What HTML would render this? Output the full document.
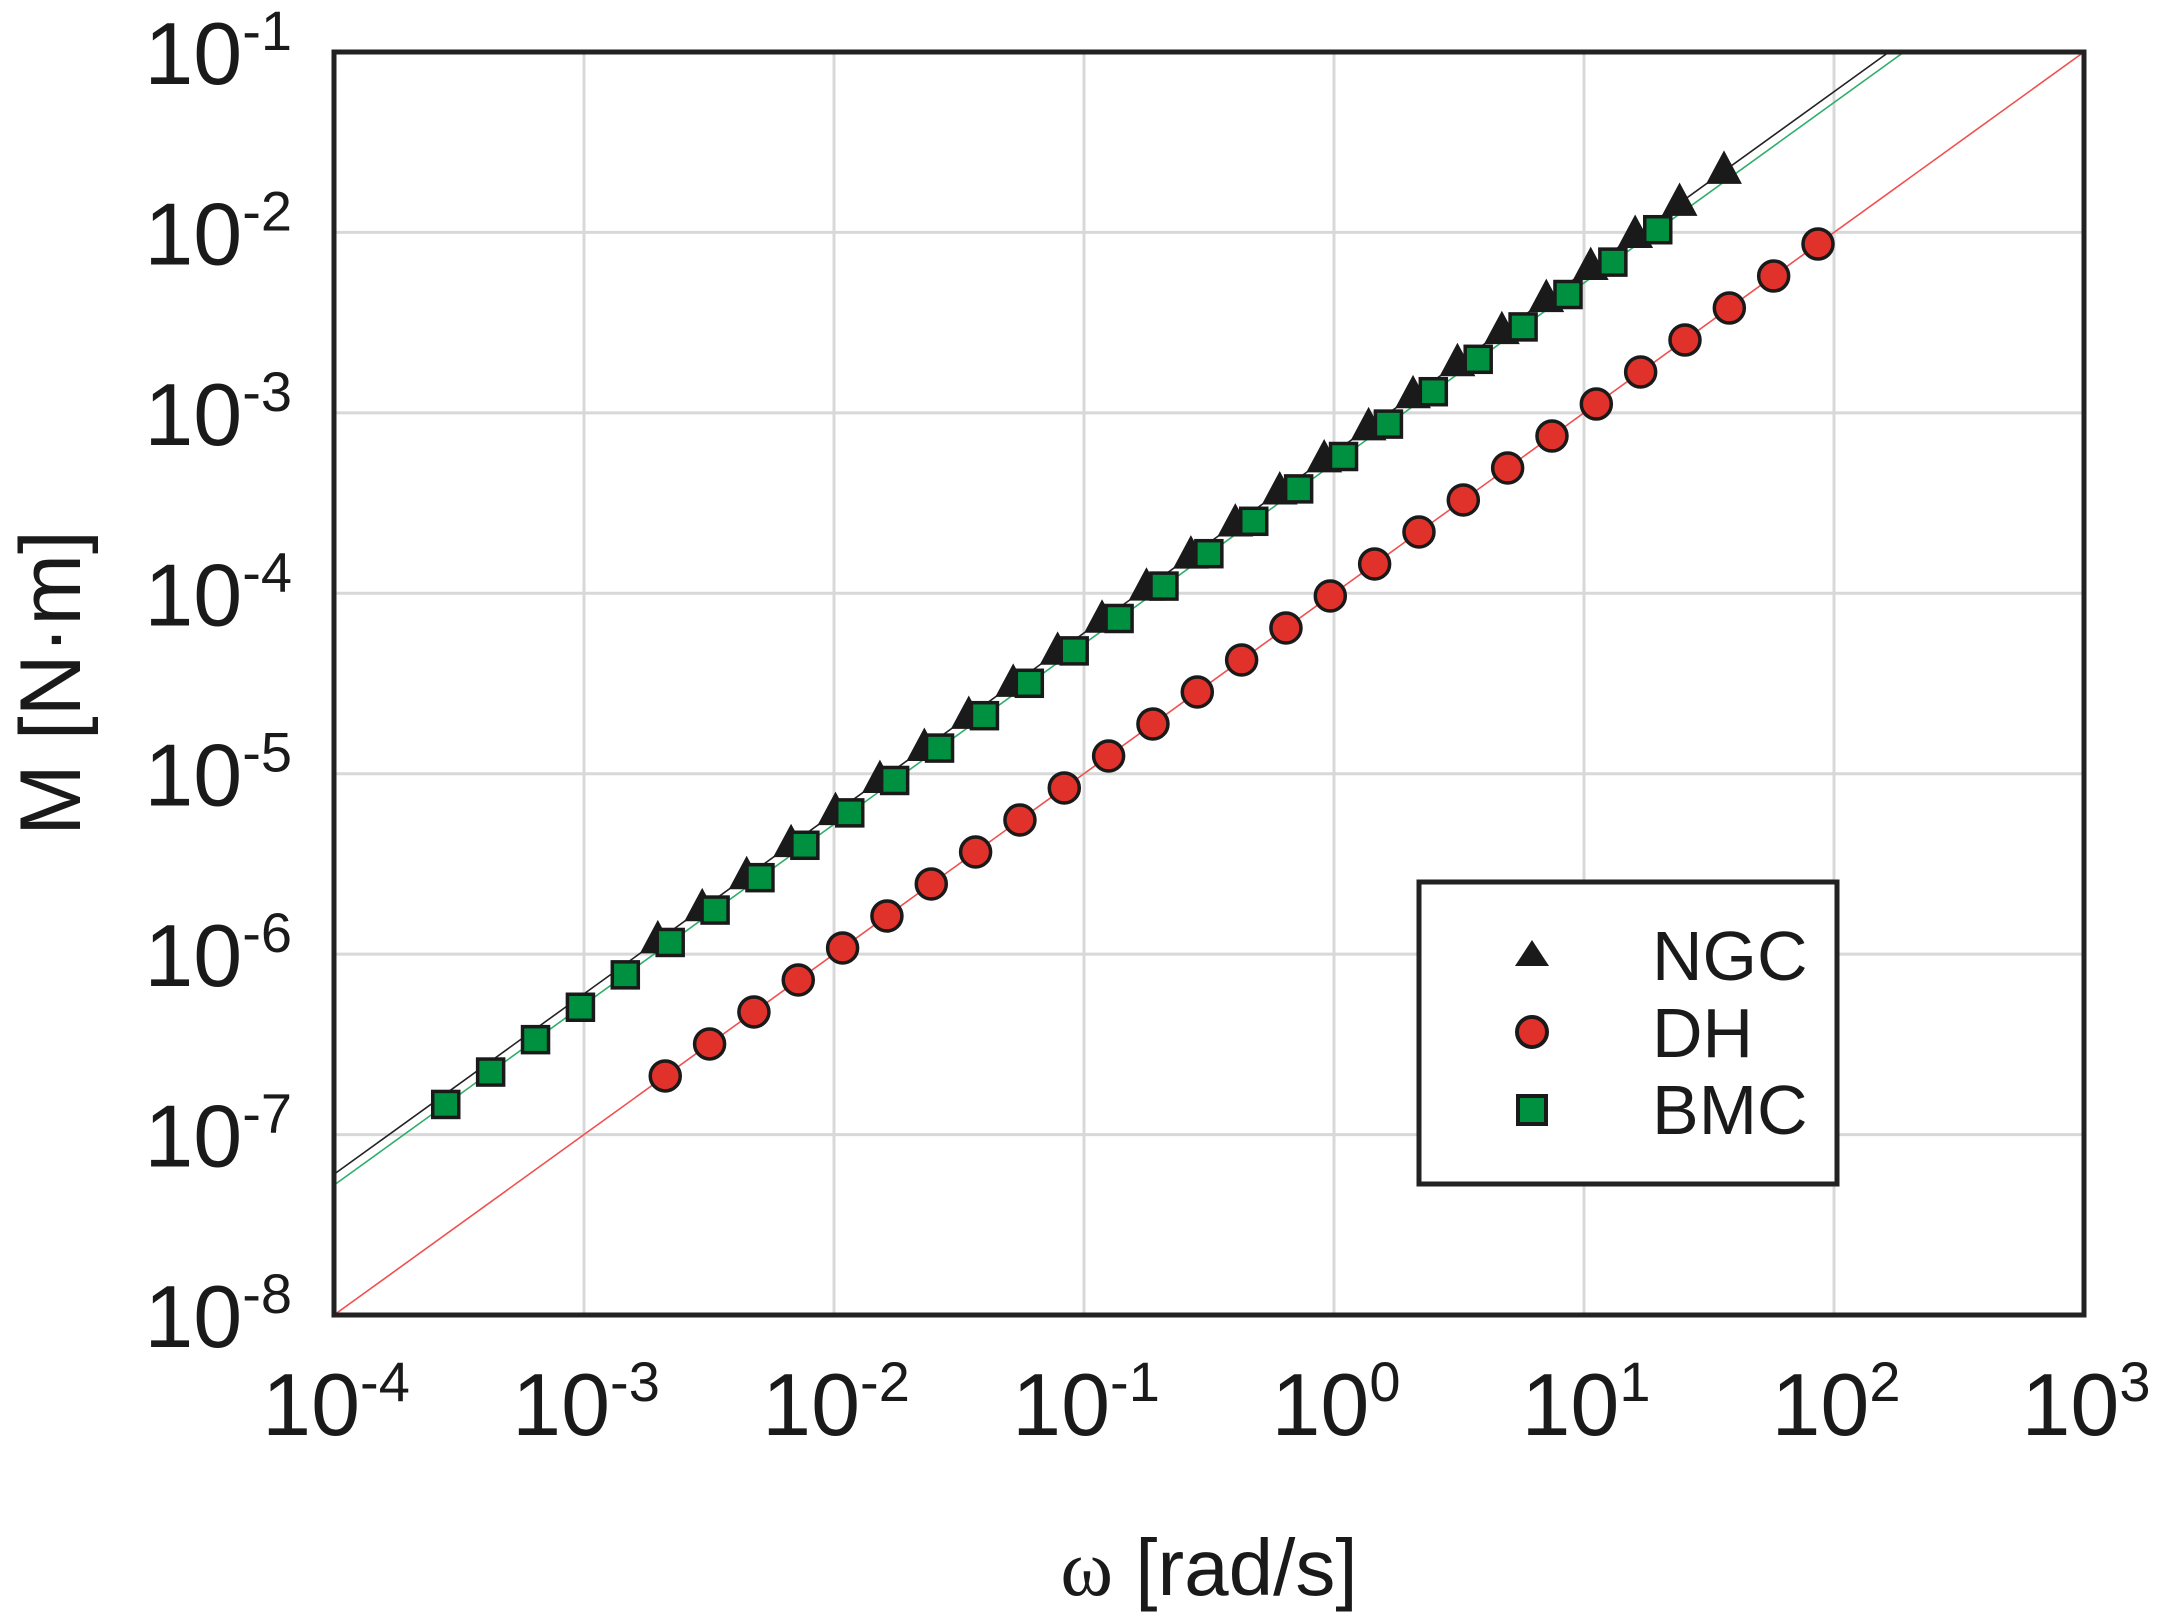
<!DOCTYPE html>
<html><head><meta charset="utf-8"><style>
html,body{margin:0;padding:0;background:#fff;}
svg{display:block;}
text{font-family:"Liberation Sans",Arial,sans-serif;fill:#1a1a1a;}
</style></head><body>
<svg id="s" width="2161" height="1620" viewBox="0 0 2161 1620" xmlns="http://www.w3.org/2000/svg">
<g id="grid" stroke="#d8d8d8" stroke-width="3"></g>
<g id="lines" stroke-width="1.6" fill="none"></g>
<g id="marks" stroke="#1a1a1a" stroke-width="3.5"></g>
<rect x="334" y="52" width="1750" height="1263" fill="none" stroke="#222" stroke-width="5"/>
<g id="labels"></g>
<text x="1209" y="1595" font-size="80" text-anchor="middle"><tspan font-family="Liberation Serif,serif">ω</tspan> [rad/s]</text>
<text transform="translate(80,683) rotate(-90)" font-size="86" text-anchor="middle">M [N·m]</text>
<rect x="1419" y="882" width="418" height="302" fill="#fff" stroke="#222" stroke-width="5"/>
<polygon points="1532,940 1549,966 1515,966" fill="#1a1a1a"/>
<circle cx="1532" cy="1032" r="15" fill="#e0312b" stroke="#1a1a1a" stroke-width="4"/>
<rect x="1518" y="1096" width="28" height="28" fill="#009140" stroke="#1a1a1a" stroke-width="4"/>
<text x="1652" y="980" font-size="70">NGC</text>
<text x="1652" y="1057" font-size="70">DH</text>
<text x="1652" y="1134" font-size="70">BMC</text>
</svg>
<script>
var NS="http://www.w3.org/2000/svg";
function X(l){return 334+(l+4)*250;}
function Y(l){return 52+(-1-l)*180.43;}
function el(p,t,a){var e=document.createElementNS(NS,t);for(var k in a)e.setAttribute(k,a[k]);document.getElementById(p).appendChild(e);return e;}
for(var i=1;i<7;i++){el("grid","line",{x1:X(-4+i),x2:X(-4+i),y1:52,y2:1315});el("grid","line",{x1:334,x2:2084,y1:Y(-8+i),y2:Y(-8+i)});}
function line(off,col){var x0=-4,y0=x0+off;var x1=-1-off;el("lines","line",{x1:X(x0),y1:Y(y0),x2:X(x1),y2:Y(-1),stroke:col});}
line(-3.22,"#222");line(-3.28,"#2fae6a");line(-4,"#f05050");
for(var k=0;k<25;k++){var lx=1.56-0.1777*k;var cx=X(lx),cy=Y(lx-3.22);
el("marks","polygon",{points:(cx)+","+(cy-17)+" "+(cx+15)+","+(cy+11)+" "+(cx-15)+","+(cy+11),fill:"#1a1a1a"});}
for(var k=0;k<28;k++){var lx=-3.553+k*(1.295+3.553)/27;var cx=X(lx),cy=Y(lx-3.28);
el("marks","rect",{x:cx-13,y:cy-13,width:26,height:26,fill:"#009140"});}
for(var k=0;k<27;k++){var lx=-2.675+k*(1.936+2.675)/26;var cx=X(lx),cy=Y(lx-4);
el("marks","circle",{cx:cx,cy:cy,r:15,fill:"#e0312b"});}
function lab(x,y,exp,anchor){var t=el("labels","text",{x:x,y:y,"font-size":88,"text-anchor":anchor});
t.appendChild(document.createTextNode("10"));var s=document.createElementNS(NS,"tspan");s.setAttribute("font-size","56");s.setAttribute("dy","-34");s.textContent=exp;t.appendChild(s);}
var ex=["-4","-3","-2","-1","0","1","2","3"];
for(var i=0;i<8;i++){lab(X(-4+i)+2,1435,ex[i],"middle");}
var ey=["-8","-7","-6","-5","-4","-3","-2","-1"];
for(var i=0;i<8;i++){lab(292,Y(-8+i)+32,ey[i],"end");}
</script>
</body></html>
